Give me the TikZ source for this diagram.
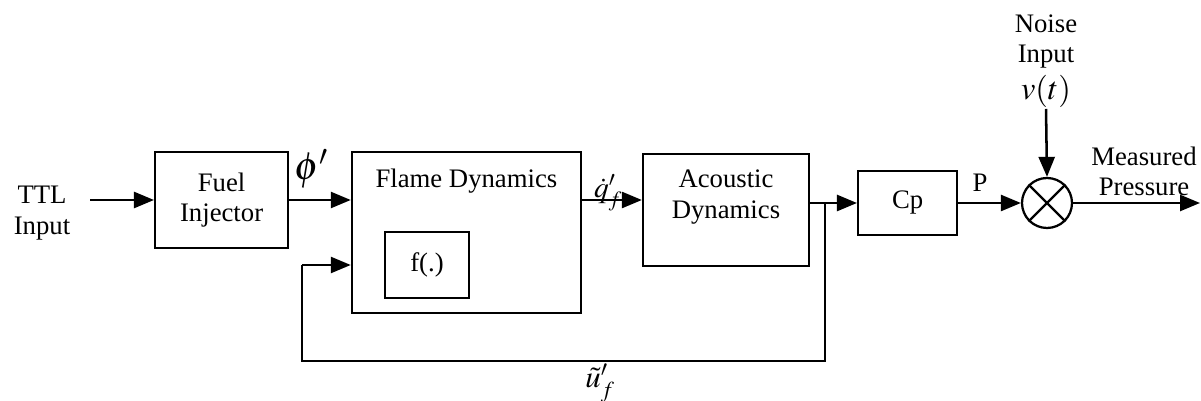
\documentclass[tikz,border=0pt]{standalone}
\usepackage{amsmath,amssymb}
\usepackage{mathptmx}
\usepackage{fontspec}
\setmainfont{Liberation Serif}
\usetikzlibrary{arrows.meta,positioning,calc}

\begin{document}
\begin{tikzpicture}[
    font=\fontsize{19}{21.5}\selectfont,
    box/.style={rectangle, draw, line width=1.6pt, align=center},
    arrow/.style={-{Triangle[length=5mm, width=4mm]}, line width=1.8pt},
    line/.style={line width=1.8pt}
]
    \useasboundingbox (0,0) rectangle (30.025,10.025);

    \node[align=center] (ttl) at (1.05,4.7) {TTL\\Input};
    \node[box, minimum width=3.325cm, minimum height=2.4cm] (fuel) at (5.54,5.025) {Fuel\\Injector};
    \node[box, minimum width=5.725cm, minimum height=4.025cm] (flame) at (11.66,4.21) {};
    \node (flametxt) at (11.66,5.5) {Flame Dynamics};
    \node[box, minimum width=2.1cm, minimum height=1.65cm] (func) at (10.675,3.4) {f(.)};
    \node[box, minimum width=4.15cm, minimum height=2.8cm] (acou) at (18.15,4.775) {};
    \node[align=center] (acoutxt) at (18.15,5.1) {Acoustic\\Dynamics};
    \node[box, minimum width=2.475cm, minimum height=1.6cm] (cp) at (22.69,4.95) {Cp};
    \node[circle, draw, line width=1.6pt, minimum size=1.25cm, inner sep=0pt] (sum) at (26.175,4.95) {};
    \draw[line width=1.6pt] (sum.north west) -- (sum.south east) (sum.north east) -- (sum.south west);

    \node[align=center, anchor=north, inner sep=1pt] (noise) at (26.15,9.7) {Noise\\Input\\[5pt]{\fontsize{23}{25}\selectfont$v(t)$}};
    \node[align=center, anchor=south, inner sep=1pt] (meas) at (28.6,5.08) {Measured\\Pressure};

    \coordinate (start) at (2.25,5.025);
    \coordinate (br) at (20.625,4.95);
    \coordinate (fb1) at (20.625,1.0);
    \coordinate (fb2) at (7.55,1.0);
    \coordinate (fb3) at (7.55,3.4);
    \coordinate (out) at (30.0,4.95);

    \draw[arrow] (start) -- (fuel.west);
    \draw[arrow] (fuel.east) -- (fuel.east -| flame.west);
    \draw[arrow] (fuel.east -| flame.east) -- (fuel.east -| acou.west);
    \draw[line] (acou.east |- br) -- (br);
    \draw[arrow] (br) -- (cp.west);
    \draw[line] (br) -- (fb1) -- (fb2) -- (fb3);
    \draw[arrow] (fb3) -- (fb3 -| flame.west);
    \draw[arrow] (cp.east) -- (sum.west);
    \draw[arrow] (noise.south |- 0,7.3) -- (sum.north);
    \draw[arrow] (sum.east) -- (out);

    \node[font=\fontsize{28}{30}\selectfont] (phi) at (7.78,5.8) {$\phi'$};
    \node[inner sep=1pt, font=\fontsize{21}{23}\selectfont] (qdot) at (15.2,5.2) {$\dot{q}'_{f}$};
    \node (P) at (24.5,5.45) {P};
    \node[inner sep=1pt, font=\fontsize{22}{24}\selectfont] (util) at (15.0,0.45) {$\tilde{u}'_{f}$};
\end{tikzpicture}
\end{document}
